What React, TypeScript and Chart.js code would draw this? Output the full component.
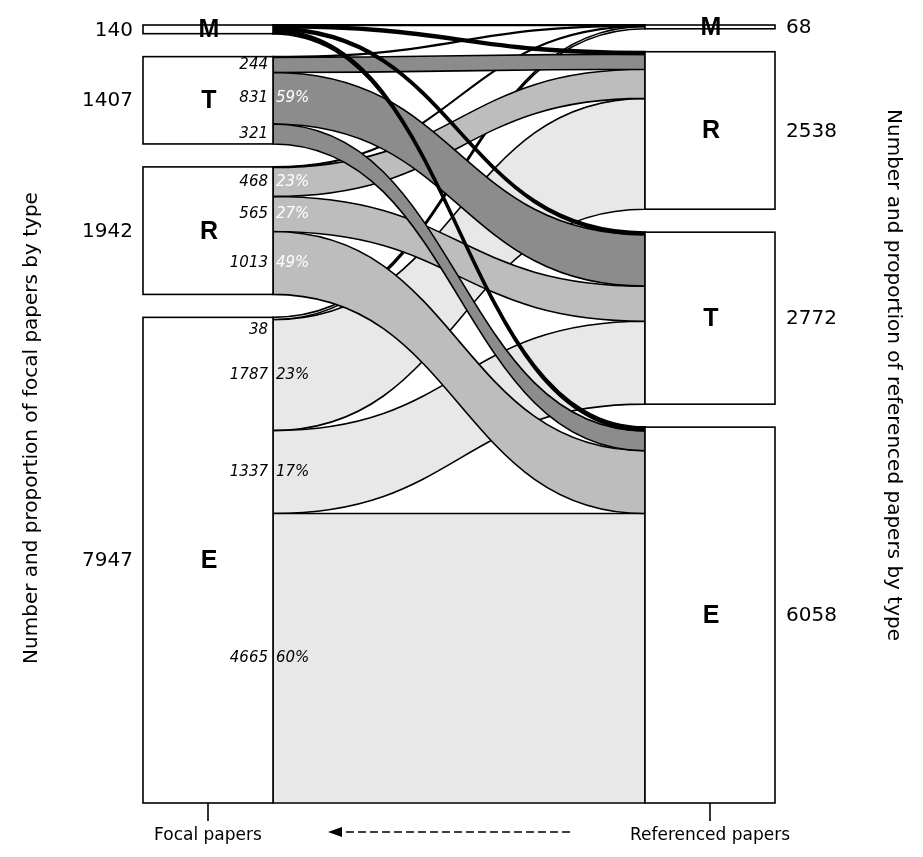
import React, { useEffect, useRef } from "react";
import { Chart, registerables } from "chart.js";
Chart.register(...registerables);

const leftTypes = ["M", "T", "R", "E"];
const rightTypes = ["M", "R", "T", "E"];
const leftCounts = ["140", "1407", "1942", "7947"];
const rightCounts = ["68", "2538", "2772", "6058"];
// flows[source in leftTypes][target in rightTypes]
const flowM = [3, 39, 39, 59];
const flowT = [11, 244, 831, 321];
const flowR = [9, 468, 565, 1013];
const flowE = [38, 1787, 1337, 4665];
const flows = [flowM, flowT, flowR, flowE];
const flowNumLabels = [
  ["", "", "", ""],
  ["", "244", "831", "321"],
  ["", "468", "565", "1013"],
  ["38", "1787", "1337", "4665"],
];
const flowPctLabels = [
  ["", "", "", ""],
  ["", "", "59%", ""],
  ["", "23%", "27%", "49%"],
  ["", "23%", "17%", "60%"],
];
const flowColors = ["#000000", "#8c8c8c", "#bdbdbd", "#e8e8e8"];
const GAP = 370;

const FONT = "'DejaVu Sans', Verdana, sans-serif";

export default function App() {
  const ref = useRef<HTMLCanvasElement>(null);
  useEffect(() => {
    document.body.style.margin = "0";
    const plugin = {
      id: "alluvial",
      afterDraw(chart: any) {
        const ctx = chart.ctx as CanvasRenderingContext2D;
        const xs = chart.scales.x, ys = chart.scales.y;
        const X = (v: number) => xs.getPixelForValue(v);
        const Y = (v: number) => ys.getPixelForValue(v);
        const xl0 = X(143), xl1 = X(273), xr0 = X(645), xr1 = X(775);
        const leftTot = flows.map((r) => r.reduce((a, b) => a + b, 0));
        const rightTot = rightTypes.map((_, j) => flows.reduce((a, r) => a + r[j], 0));
        const lStart: number[] = [], rStart: number[] = [];
        let acc = 0;
        leftTot.forEach((t) => { lStart.push(acc); acc += t + GAP; });
        acc = 0;
        rightTot.forEach((t) => { rStart.push(acc); acc += t + GAP; });
        const lPos: number[][] = [], rPos: number[][] = [];
        flows.forEach((r, i) => {
          let a = lStart[i]; lPos.push(r.map((v) => { const p = a; a += v; return p; }));
        });
        const rAcc = rStart.slice();
        flows.forEach(() => rPos.push([]));
        rightTypes.forEach((_, j) => {
          flows.forEach((r, i) => { rPos[i][j] = rAcc[j]; rAcc[j] += r[j]; });
        });
        const order = [3, 2, 1, 0];
        const mx = (xl1 + xr0) / 2;
        order.forEach((i) => {
          flows[i].forEach((v, j) => {
            const a0 = Y(lPos[i][j]), a1 = Y(lPos[i][j] + v);
            const b0 = Y(rPos[i][j]), b1 = Y(rPos[i][j] + v);
            ctx.beginPath();
            ctx.moveTo(xl1, a0);
            ctx.bezierCurveTo(mx, a0, mx, b0, xr0, b0);
            ctx.lineTo(xr0, b1);
            ctx.bezierCurveTo(mx, b1, mx, a1, xl1, a1);
            ctx.closePath();
            ctx.fillStyle = flowColors[i];
            ctx.fill();
            ctx.strokeStyle = "#000";
            ctx.lineWidth = i === 0 ? 2 : 1.6;
            ctx.stroke();
          });
        });
        ctx.lineWidth = 1.6;
        const drawNode = (x0: number, x1: number, s: number, t: number, letter: string, count: string, left: boolean) => {
          const y0 = Y(s), y1 = Y(s + t);
          ctx.fillStyle = "#fff";
          ctx.fillRect(x0, y0, x1 - x0, y1 - y0);
          ctx.strokeStyle = "#000";
          ctx.strokeRect(x0, y0, x1 - x0, y1 - y0);
          const cy = (y0 + y1) / 2;
          ctx.fillStyle = "#000";
          ctx.font = `bold 25px 'Liberation Sans', Arial, sans-serif`;
          ctx.textAlign = "center";
          ctx.textBaseline = "middle";
          ctx.fillText(letter, (x0 + x1) / 2 + 1, cy + 1);
          ctx.font = `20px ${FONT}`;
          ctx.textAlign = left ? "right" : "left";
          ctx.fillText(count, left ? X(133) : X(786), cy + 1);
        };
        leftTypes.forEach((l, i) => drawNode(xl0, xl1, lStart[i], leftTot[i], l, leftCounts[i], true));
        rightTypes.forEach((l, j) => drawNode(xr0, xr1, rStart[j], rightTot[j], l, rightCounts[j], false));
        ctx.font = `italic 15px ${FONT}`;
        ctx.textBaseline = "middle";
        flows.forEach((r, i) => {
          r.forEach((v, j) => {
            const num = flowNumLabels[i][j];
            if (!num) return;
            let cy = Y(lPos[i][j] + v / 2);
            if (v < 200) cy = Y(lPos[i][j]) + 13;
            ctx.fillStyle = "#000";
            ctx.textAlign = "right";
            ctx.fillText(num, xl1 - 5, cy);
            const pct = flowPctLabels[i][j];
            if (pct) {
              ctx.fillStyle = i === 3 ? "#000" : "#fff";
              ctx.textAlign = "left";
              ctx.fillText(pct, xl1 + 3, cy);
            }
          });
        });
        const base = ys.bottom;
        ctx.strokeStyle = "#000";
        ctx.lineWidth = 1.6;
        [208, 710].forEach((xv) => {
          ctx.beginPath(); ctx.moveTo(X(xv), base); ctx.lineTo(X(xv), base + 18); ctx.stroke();
        });
        ctx.fillStyle = "#000";
        ctx.font = `17px ${FONT}`;
        ctx.textAlign = "center";
        ctx.textBaseline = "middle";
        ctx.fillText("Focal papers", X(208), base + 33);
        ctx.fillText("Referenced papers", X(710), base + 33);
        const ay = base + 29;
        ctx.setLineDash([8, 4]);
        ctx.lineWidth = 1.4;
        ctx.beginPath(); ctx.moveTo(X(570), ay); ctx.lineTo(X(340), ay); ctx.stroke();
        ctx.setLineDash([]);
        ctx.beginPath();
        ctx.moveTo(X(328), ay); ctx.lineTo(X(342), ay - 5); ctx.lineTo(X(342), ay + 5); ctx.closePath();
        ctx.fill();
        ctx.font = `20px ${FONT}`;
        ctx.save();
        ctx.translate(X(32), 428);
        ctx.rotate(-Math.PI / 2);
        ctx.fillText("Number and proportion of focal papers by type", 0, 0);
        ctx.restore();
        ctx.save();
        ctx.translate(X(893), 375);
        ctx.rotate(Math.PI / 2);
        ctx.fillText("Number and proportion of referenced papers by type", 0, 0);
        ctx.restore();
      },
    };
    const leftTotal = flows.reduce((a, r) => a + r.reduce((x, y) => x + y, 0), 0);
    const chart = new Chart(ref.current!, {
      type: "scatter",
      data: { datasets: [{ data: [] }] },
      options: {
        animation: false,
        responsive: false,
        layout: { padding: { top: 25, bottom: 54, left: 0, right: 0 } },
        plugins: { legend: { display: false }, tooltip: { enabled: false } },
        scales: {
          x: { type: "linear", min: 0, max: 923, display: false },
          y: { type: "linear", min: 0, max: leftTotal + 3 * GAP, reverse: true, display: false },
        },
      },
      plugins: [plugin],
    });
    return () => chart.destroy();
  }, []);
  return (
    <div style={{ position: "absolute", left: 0, top: 0, width: 923, height: 857 }}>
      <canvas ref={ref} width={923} height={857} style={{ width: 923, height: 857 }} />
    </div>
  );
}
